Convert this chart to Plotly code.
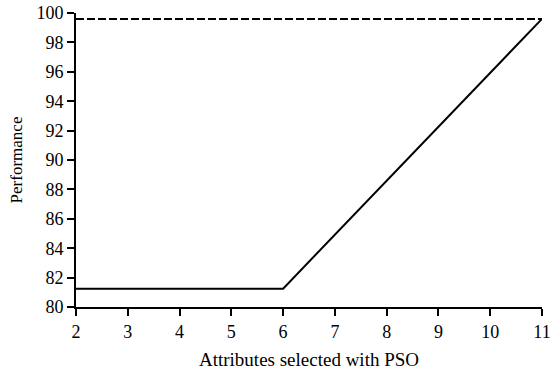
import plotly.graph_objects as go

x_vals = [2, 6, 11]
performance = [81.25, 81.25, 99.6]
baseline_x = [2, 11]
baseline_y = [99.6, 99.6]
x_ticks = [2, 3, 4, 5, 6, 7, 8, 9, 10, 11]
y_ticks = [80, 82, 84, 86, 88, 90, 92, 94, 96, 98, 100]

fig = go.Figure()
fig.add_trace(go.Scatter(x=baseline_x, y=baseline_y, mode="lines",
                         line=dict(color="black", width=2, dash="8px,3px"), showlegend=False))
fig.add_trace(go.Scatter(x=x_vals, y=performance, mode="lines",
                         line=dict(color="black", width=2), showlegend=False))

fam = "Liberation Serif, Times New Roman, serif"
fig.update_layout(
    width=550, height=372,
    margin=dict(l=76, r=8, t=13, b=65, autoexpand=False),
    plot_bgcolor="white", paper_bgcolor="white",
    font=dict(family=fam, size=18, color="black"),
    xaxis=dict(range=[2, 11], tickvals=x_ticks, ticks="outside", ticklen=7, tickwidth=2,
               tickcolor="black", showline=True, linecolor="black", linewidth=2,
               showgrid=False, zeroline=False, tickfont=dict(family=fam, size=18),
               ticklabeloverflow="allow", automargin=False,
               title=dict(text="Attributes selected with PSO", standoff=12,
                          font=dict(family=fam, size=19))),
    yaxis=dict(range=[80, 100], tickvals=y_ticks, ticks="outside", ticklen=7, tickwidth=2,
               tickcolor="black", showline=True, linecolor="black", linewidth=2,
               showgrid=False, zeroline=False, tickfont=dict(family=fam, size=18),
               ticklabeloverflow="allow", automargin=False,
               title=dict(text="Performance", standoff=9,
                          font=dict(family=fam, size=17))),
)
fig.write_html("out.html", config={"displayModeBar": False},
               post_script="document.body.style.margin='0';")
